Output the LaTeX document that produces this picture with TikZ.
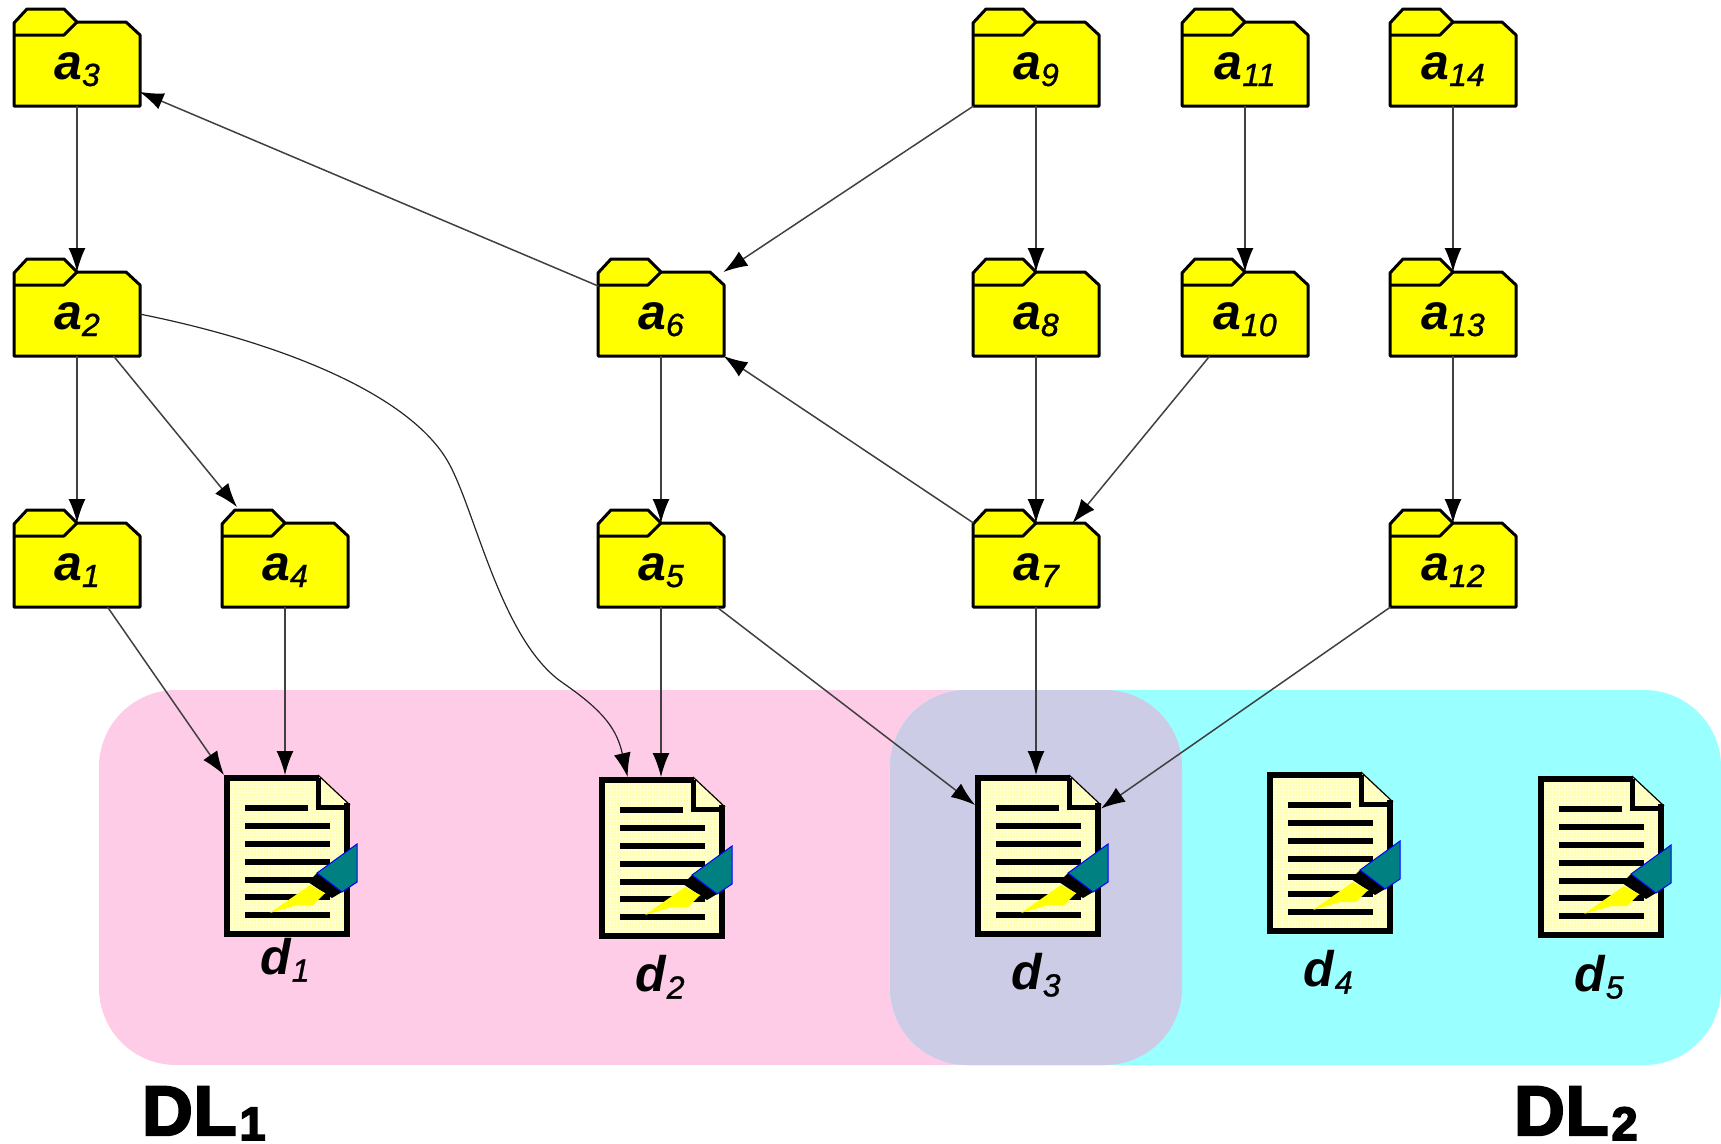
\documentclass[tikz,border=0pt]{standalone}
\usepackage{fontspec}
\setmainfont{Liberation Sans}
\newfontfamily\heavyfont[FakeBold=3.4]{Liberation Sans Bold}
\newfontfamily\subfont[FakeBold=1]{Liberation Sans Italic}
\usetikzlibrary{arrows.meta,patterns}
\definecolor{dlpink}{HTML}{FFCCE8}
\definecolor{dlcyan}{HTML}{99FFFF}
\definecolor{dlboth}{HTML}{CCCCE6}
\definecolor{penteal}{HTML}{008080}
\definecolor{pureyellow}{RGB}{255,255,0}
\definecolor{docyellow}{HTML}{FFFFD0}
\newcommand{\itemlab}[2]{\textbf{\textit{\fontsize{50pt}{50pt}\selectfont #1}}\raisebox{-7pt}{\subfont\fontsize{32pt}{32pt}\selectfont #2}}
\newcommand{\dllab}[1]{{\heavyfont\fontsize{70pt}{70pt}\selectfont D\kern1pt L\kern3pt\raisebox{-5pt}{\fontsize{47pt}{47pt}\selectfont #1}}}
\tikzset{
  link/.style={-{Latex[length=24pt,width=17pt,color=black]},draw=black!75,line width=1.5pt},
  folderbody/.style={minimum width=125pt,minimum height=84pt,inner sep=0pt,outer sep=0pt,text height=32pt,text depth=2pt},
  docbody/.style={minimum width=126pt,minimum height=162pt,inner sep=0pt,outer sep=0pt},
  dlarea/.style={rounded corners=77pt},
  folderpic/.pic={
    \draw[fill=pureyellow,line width=3pt,line join=round] (-63,-20) -- (-50,-34) -- (-13,-34) -- (0,-21) -- (49,-21) -- (63,-8) -- (63,63) -- (-63,63) -- cycle;
    \draw[line width=3pt,line join=round] (-63,-8) -- (-13,-8) -- (0,-21);
  },
  docpic/.pic={
    \fill[docyellow] (-63,-81) -- (31,-81) -- (63,-51) -- (63,81) -- (-63,81) -- cycle;
    \fill[pattern=dots,pattern color=pureyellow] (-63,-81) -- (31,-81) -- (63,-51) -- (63,81) -- (-63,81) -- cycle;
    \draw[line width=6pt,line join=miter] (32,-78) -- (-60,-78) -- (-60,78) -- (60,78) -- (60,-53);
    \draw[line width=1.2pt] (31,-81) -- (63,-51);
    \draw[line width=5pt] (31,-78) -- (31,-49) -- (63,-49);
    \foreach \ly/\lx in {-48/21,-30/43,-12/43,6/43,24/43,41/43,59/43} {\draw[line width=6pt] (-42,\ly) -- (\lx,\ly);}
    \fill[black] (30,17) -- (55,36) -- (45,42) -- (21,26) -- cycle;
    \fill[pureyellow] (-17,57) -- (23,29) -- (38,37) -- (26,49) -- (10,49) -- cycle;
    \draw[fill=penteal,draw=blue,line width=1pt] (30,17) -- (70,-12) -- (70,26) -- (55,36) -- cycle;
  },
}
\begin{document}
\begin{tikzpicture}[x=1pt,y=-1pt]
\useasboundingbox (0,0) rectangle (1721,1143);
% areas
\fill[dlpink,dlarea] (99,690) rectangle (1182,1065);
\fill[dlcyan,dlarea] (890,690) rectangle (1721,1065);
\fill[dlboth,dlarea] (890,690) rectangle (1182,1065);
% folders
\foreach \name/\x/\y/\idx in {a3/77/64/3,a9/1036/64/9,a11/1245/64/11,a14/1453/64/14,
  a2/77/314/2,a6/661/314/6,a8/1036/314/8,a10/1245/314/10,a13/1453/314/13,
  a1/77/565/1,a4/285/565/4,a5/661/565/5,a7/1036/565/7,a12/1453/565/12} {
  \pic at (\x,\y-21) {folderpic};
  \node[folderbody] (\name) at (\x,\y) {\itemlab{a}{\idx}};
  \coordinate (\name tab) at (\x-48,\y-58);
}
% documents
\foreach \name/\x/\y/\idx/\ty in {d1/287/856/1/960,d2/662/858/2/977,d3/1038/856/3/975,d4/1330/853/4/972,d5/1601/857/5/977} {
  \pic at (\x,\y) {docpic};
  \node[docbody] (\name) at (\x,\y) {};
  \node (\name lab) at (\x-2,\ty) {\itemlab{d}{\idx}};
}
% links
\draw[link] (a3) -- (a2.north);
\draw[link] (a2) -- (a1.north);
\draw[link] (a6) -- (a5.north);
\draw[link] (a9) -- (a8.north);
\draw[link] (a8) -- (a7.north);
\draw[link] (a11) -- (a10.north);
\draw[link] (a14) -- (a13.north);
\draw[link] (a13) -- (a12.north);
\draw[link] (a2.-49) -- (a4tab);
\draw[link] (a1.-54) -- (d1.north west);
\draw[link] (a4) -- (a4 |- d1.north);
\draw[link] (a5) -- (a5 |- d2.north);
\draw[link] (a7) -- (a7 |- d3.north);
\draw[link] (a5.-37) -- (d3.141);
\draw[link] (a12.south west) -- (d3.37);
\draw[link] (a6.156) -- (a3.-24);
\draw[link] (a9.south west) -- (a6.north east);
\draw[link] (a7.north west) -- (a6.south east);
\draw[link] (a10.-130) -- (a7.49);
\draw[link,line width=1.2pt,draw=black!85] (a2.east) .. controls (270,340) and (405,390) .. (447,460) .. controls (475,507) and (500,640) .. (563,683) .. controls (605,712) and (617,730) .. (d2.113);
% titles
\node[anchor=base west,inner sep=0pt] (dl1) at (142,1135) {\dllab{1}};
\node[anchor=base west,inner sep=0pt] (dl2) at (1514,1135) {\dllab{2}};
\end{tikzpicture}
\end{document}
